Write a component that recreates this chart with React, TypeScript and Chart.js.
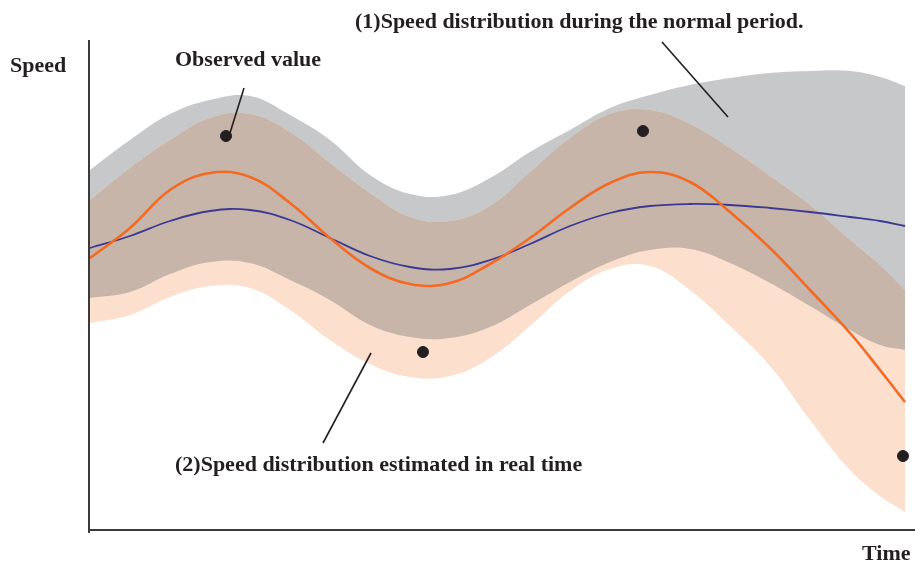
import React, { useEffect, useRef } from "react";
import { Chart, registerables } from "chart.js";

Chart.register(...registerables);

// Time axis (arbitrary units) shared by all curves
const timePoints = [0, 40, 80, 120, 160, 200, 240, 280, 320, 360, 400, 440, 480, 520, 560, 600, 640, 680, 720, 760, 790, 815];
// (1) Speed distribution during the normal period (band + mean)
const normalUpper = [360, 390, 416, 430, 434, 415, 390, 355, 336, 335, 352, 378, 400, 422, 435, 445, 452, 457, 459, 459, 453, 444];
const normalLower = [232, 238, 256, 268, 267, 250, 230, 205, 193, 192, 203, 225, 248, 268, 280, 281, 267, 247, 224, 200, 185, 180];
const normalMean = [282, 294, 309, 319, 320, 310, 292, 274, 263, 261, 270, 286, 304, 317, 324, 326, 325, 322, 318, 313, 309, 304];
// (2) Speed distribution estimated in real time (band + mean)
const estUpper = [330, 362, 390, 412, 416, 398, 367, 337, 313, 309, 324, 358, 392, 416, 420, 406, 382, 354, 325, 290, 265, 240];
const estLower = [207, 215, 233, 244, 242, 220, 190, 166, 153, 154, 172, 204, 239, 261, 264, 240, 204, 164, 110, 60, 34, 18];
const estMean = [272, 302, 340, 357, 353, 327, 292, 262, 246, 247, 266, 292, 322, 347, 358, 348, 318, 282, 240, 197, 160, 128];
// Observed values
const observedTime = [136, 333, 553, 813];
const observedSpeed = [394, 178, 399, 74];

const TIME_MIN = -1;
const TIME_MAX = 825;
const SPEED_MIN = 0;
const SPEED_MAX = 490;

// Annotation leader lines in data units
const leaders = [
  { from: [154, 442], to: [140, 397] },
  { from: [572, 488], to: [638, 413] },
  { from: [281, 177], to: [233, 87] },
];

const labels = [
  { text: "Speed", x: 10, y: 66 },
  { text: "Observed value", x: 175, y: 60 },
  { text: "(1)Speed distribution during the normal period.", x: 355, y: 22 },
  { text: "(2)Speed distribution estimated in real time", x: 175, y: 465 },
  { text: "Time", x: 862, y: 554 },
];

const GRAY = "#c7c8ca";
const PINK = "#fcdfcd";
const BROWN = "#c8b5a9";
const ORANGE = "#f26a23";
const BLUE = "#3b3a92";
const INK = "#231f20";

const pts = (ys: number[]) => timePoints.map((t, i) => ({ x: t, y: ys[i] }));

export default function App() {
  const ref = useRef<HTMLCanvasElement | null>(null);

  useEffect(() => {
    document.body.style.margin = "0";
    const canvas = ref.current;
    if (!canvas) return;

    const band = (data: number[], order: number, fill: any, color: string) => ({
      type: "line" as const,
      data: pts(data),
      borderWidth: 0,
      borderColor: "rgba(0,0,0,0)",
      backgroundColor: color,
      pointRadius: 0,
      fill,
      order,
      tension: 0.4,
    });

    const decorations = {
      id: "decorations",
      afterDraw(chart: any) {
        const ctx = chart.ctx;
        const area = chart.chartArea;
        const xs = chart.scales.x;
        const ys = chart.scales.y;
        ctx.save();
        // axes
        ctx.strokeStyle = "#3a3a3a";
        ctx.lineWidth = 2;
        ctx.beginPath();
        ctx.moveTo(area.left, area.top);
        ctx.lineTo(area.left, area.bottom + 3);
        ctx.moveTo(area.left - 1, area.bottom);
        ctx.lineTo(area.right, area.bottom);
        ctx.stroke();
        // leader lines
        ctx.strokeStyle = INK;
        ctx.lineWidth = 1.6;
        leaders.forEach((l) => {
          ctx.beginPath();
          ctx.moveTo(xs.getPixelForValue(l.from[0]), ys.getPixelForValue(l.from[1]));
          ctx.lineTo(xs.getPixelForValue(l.to[0]), ys.getPixelForValue(l.to[1]));
          ctx.stroke();
        });
        // labels
        ctx.fillStyle = INK;
        ctx.font = "bold 22px 'Liberation Serif', 'Times New Roman', serif";
        ctx.textAlign = "left";
        ctx.textBaseline = "middle";
        labels.forEach((lb) => ctx.fillText(lb.text, lb.x, lb.y));
        ctx.restore();
      },
    };

    const chart = new Chart(canvas, {
      type: "line",
      data: {
        datasets: [
          band(normalUpper, 10, false, GRAY), // 0
          band(normalLower, 9, "-1", GRAY), // 1
          band(estUpper, 8, false, PINK), // 2
          band(estLower, 7, 2, PINK), // 3
          band(normalLower, 6, 2, BROWN), // 4 overlap of the two bands
          {
            type: "line",
            data: pts(normalMean),
            borderColor: BLUE,
            borderWidth: 1.8,
            pointRadius: 0,
            fill: false,
            order: 3,
            tension: 0.4,
          },
          {
            type: "line",
            data: pts(estMean),
            borderColor: ORANGE,
            borderWidth: 2.6,
            pointRadius: 0,
            fill: false,
            order: 2,
            tension: 0.4,
          },
          {
            type: "scatter",
            data: observedTime.map((t, i) => ({ x: t, y: observedSpeed[i] })),
            backgroundColor: INK,
            borderColor: INK,
            pointRadius: 5.5,
            showLine: false,
            order: 1,
          } as any,
        ],
      },
      options: {
        animation: false,
        responsive: false,
        events: [],
        layout: { autoPadding: false, padding: { left: 89, right: 0, top: 40, bottom: 36 } },
        plugins: {
          legend: { display: false },
          tooltip: { enabled: false },
          title: { display: false },
        },
        scales: {
          x: { type: "linear", min: TIME_MIN, max: TIME_MAX, display: false },
          y: { type: "linear", min: SPEED_MIN, max: SPEED_MAX, display: false },
        },
      },
      plugins: [decorations],
    } as any);

    return () => chart.destroy();
  }, []);

  return (
    <div style={{ width: 915, height: 566, background: "#fff" }}>
      <canvas ref={ref} width={915} height={566} style={{ display: "block" }} />
    </div>
  );
}
